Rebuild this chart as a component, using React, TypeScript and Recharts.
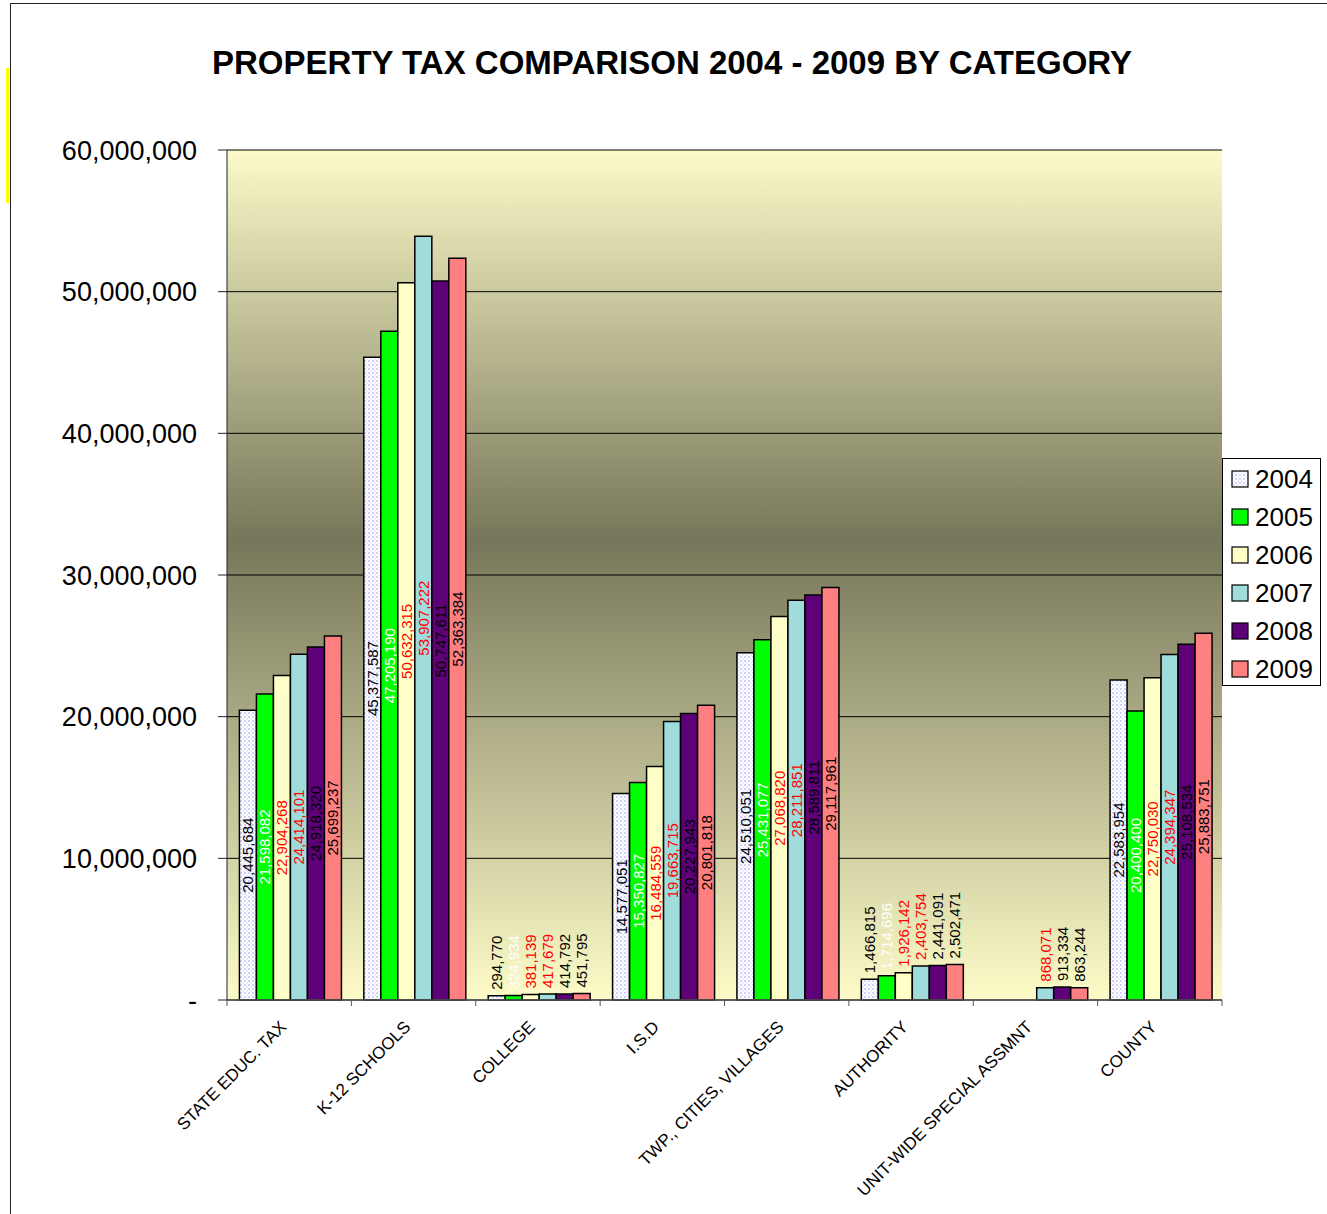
import React from 'react';
import { BarChart, Bar, XAxis, YAxis, CartesianGrid, LabelList } from 'recharts';

const categories = [
  'STATE EDUC. TAX',
  'K-12 SCHOOLS',
  'COLLEGE',
  'I.S.D',
  'TWP., CITIES, VILLAGES',
  'AUTHORITY',
  'UNIT-WIDE SPECIAL ASSMNT',
  'COUNTY',
];
const years = ['2004', '2005', '2006', '2007', '2008', '2009'];
const v2004 = [20445684, 45377587, 294770, 14577051, 24510051, 1466815, null, 22583954];
const v2005 = [21598082, 47205190, 324934, 15350827, 25431077, 1714696, null, 20400400];
const v2006 = [22904268, 50632315, 381139, 16484559, 27068820, 1926142, null, 22750030];
const v2007 = [24414101, 53907222, 417679, 19663715, 28211851, 2403754, 868071, 24394347];
const v2008 = [24918320, 50747611, 414792, 20227943, 28589811, 2441091, 913334, 25108534];
const v2009 = [25699237, 52363384, 451795, 20801818, 29117961, 2502471, 863244, 25883751];
const yTicks = [0, 10000000, 20000000, 30000000, 40000000, 50000000, 60000000];
const title = 'PROPERTY TAX COMPARISON 2004 - 2009 BY CATEGORY';

const seriesValues = [v2004, v2005, v2006, v2007, v2008, v2009];
const seriesFill = ['url(#dots2004)', '#00ff00', '#ffffc8', '#a0dcdc', '#5e0078', '#ff8080'];
const swatchFill = seriesFill;
const labelColor = ['#000000', '#ffffff', '#ff0000', '#ff0000', '#000000', '#000000'];

const data = categories.map((c, i) => {
  const row: any = { category: c };
  years.forEach((y, s) => {
    row['y' + y] = seriesValues[s][i];
  });
  return row;
});

const FONT = "'Liberation Sans', Arial, sans-serif";
const W = 1327;
const H = 1214;
const PLOT_LEFT = 227;
const PLOT_RIGHT = 1222;
const PLOT_TOP = 150;
const PLOT_BOTTOM = 1000;
const HALF_BAND = (PLOT_RIGHT - PLOT_LEFT) / categories.length / 2;

const fmt = (v: number) => (v === 0 ? '-' : v.toLocaleString('en-US'));

const makeLabel = (color: string) => (props: any) => {
  const { x, y, width, height, value } = props;
  if (value == null || value === '') return null;
  const text = Number(value).toLocaleString('en-US');
  const fs = 15;
  const textLen = text.replace(/,/g, '').length * 0.556 * fs + (text.split(',').length - 1) * 0.278 * fs;
  const cx = Number(x) + Number(width) / 2;
  const h = Math.abs(Number(height));
  if (h > textLen + 8) {
    const cy = Number(y) + h / 2;
    return (
      <text
        x={cx}
        y={cy}
        transform={`rotate(-90 ${cx} ${cy})`}
        textAnchor="middle"
        dominantBaseline="central"
        fill={color}
        fontSize={fs}
        fontFamily={FONT}
      >
        {text}
      </text>
    );
  }
  const by = Number(y) - 6;
  return (
    <text
      x={cx}
      y={by}
      transform={`rotate(-90 ${cx} ${by})`}
      textAnchor="start"
      dominantBaseline="central"
      fill={color}
      fontSize={fs}
      fontFamily={FONT}
    >
      {text}
    </text>
  );
};

const XTick = (props: any) => {
  const { x, payload, index } = props;
  const px = Number(x);
  const tx = px - 2;
  const ty = PLOT_BOTTOM + 28;
  return (
    <g>
      <line x1={px - HALF_BAND} x2={px - HALF_BAND} y1={PLOT_BOTTOM} y2={PLOT_BOTTOM + 6} stroke="#555" strokeWidth={1} />
      {index === categories.length - 1 ? (
        <line x1={px + HALF_BAND} x2={px + HALF_BAND} y1={PLOT_BOTTOM} y2={PLOT_BOTTOM + 6} stroke="#555" strokeWidth={1} />
      ) : null}
      <text
        transform={`translate(${tx},${ty}) rotate(-45)`}
        textAnchor="end"
        fontSize={17}
        fontFamily={FONT}
        fill="#000"
      >
        {payload.value}
      </text>
    </g>
  );
};

const DotPattern = ({ id }: { id: string }) => (
  <pattern id={id} width="4" height="4" patternUnits="userSpaceOnUse">
    <rect width="4" height="4" fill="#ffffff" />
    <circle cx="1" cy="1" r="0.75" fill="#8a8aff" />
    <circle cx="3" cy="3" r="0.6" fill="#b0b0ff" />
  </pattern>
);

export default function App() {
  return (
    <div style={{ position: 'absolute', left: 0, top: 0, width: W, height: H, background: '#fff', overflow: 'hidden' }}>
      <div style={{ position: 'absolute', left: 10, top: 3, width: 1, height: H, background: '#222' }} />
      <div style={{ position: 'absolute', left: 10, top: 3, width: W, height: 1, background: '#222' }} />
      <div style={{ position: 'absolute', left: 6, top: 68, width: 3, height: 135, background: '#ffff00' }} />
      <div
        style={{
          position: 'absolute',
          left: 0,
          width: 1344,
          top: 46,
          textAlign: 'center',
          fontFamily: FONT,
          fontWeight: 'bold',
          fontSize: 33,
          lineHeight: '33px',
          color: '#000',
          whiteSpace: 'nowrap',
        }}
      >
        {title}
      </div>
      <div style={{ position: 'absolute', left: 0, top: 0 }}>
        <BarChart
          width={W}
          height={H}
          data={data}
          margin={{ top: PLOT_TOP, right: W - PLOT_RIGHT, bottom: 0, left: 0 }}
          barCategoryGap="10%"
          barGap={0}
        >
          <defs>
            <linearGradient id="bgGrad" x1="0" y1="0" x2="0" y2="1">
              <stop offset="0" stopColor="#fbfac8" />
              <stop offset="0.46" stopColor="#76765a" />
              <stop offset="1" stopColor="#fdfcc8" />
            </linearGradient>
            <DotPattern id="dots2004" />
          </defs>
          <CartesianGrid vertical={false} stroke="#000" strokeWidth={1} fill="url(#bgGrad)" fillOpacity={1} />
          <XAxis
            dataKey="category"
            interval={0}
            tickLine={false}
            axisLine={{ stroke: '#555', strokeWidth: 1.5 }}
            tick={<XTick />}
            height={H - PLOT_BOTTOM}
          />
          <YAxis
            domain={[0, 60000000]}
            ticks={yTicks}
            width={PLOT_LEFT}
            tickFormatter={fmt}
            tickSize={9}
            tickMargin={21}
            tickLine={{ stroke: '#222' }}
            axisLine={{ stroke: '#222' }}
            tick={{ fontSize: 27, fontFamily: FONT, fill: '#000' }}
            interval={0}
          />
          <YAxis
            yAxisId="right"
            orientation="right"
            domain={[0, 60000000]}
            width={0}
            tick={false}
            tickLine={false}
            axisLine={{ stroke: '#888' }}
          />
          {years.map((y, s) => (
            <Bar
              key={y}
              dataKey={'y' + y}
              name={y}
              fill={seriesFill[s]}
              stroke="#000"
              strokeWidth={1.5}
              isAnimationActive={false}
            >
              <LabelList dataKey={'y' + y} content={makeLabel(labelColor[s])} />
            </Bar>
          ))}
        </BarChart>
      </div>
      <div
        style={{
          position: 'absolute',
          left: 1222,
          top: 458,
          width: 99,
          height: 228,
          background: '#fff',
          border: '1px solid #000',
          boxSizing: 'border-box',
        }}
      >
        {years.map((y, s) => (
          <div
            key={y}
            style={{ position: 'absolute', left: 0, top: 1 + s * 38, height: 38, width: 99, display: 'flex', alignItems: 'center' }}
          >
            <svg width={18} height={18} style={{ marginLeft: 8 }}>
              <defs>
                <DotPattern id={'lg' + s} />
              </defs>
              <rect x={1} y={1} width={16} height={16} fill={s === 0 ? 'url(#lg0)' : swatchFill[s]} stroke="#000" strokeWidth={1.2} />
            </svg>
            <span style={{ fontFamily: FONT, fontSize: 26, marginLeft: 6, color: '#000', lineHeight: '26px' }}>{y}</span>
          </div>
        ))}
      </div>
    </div>
  );
}
